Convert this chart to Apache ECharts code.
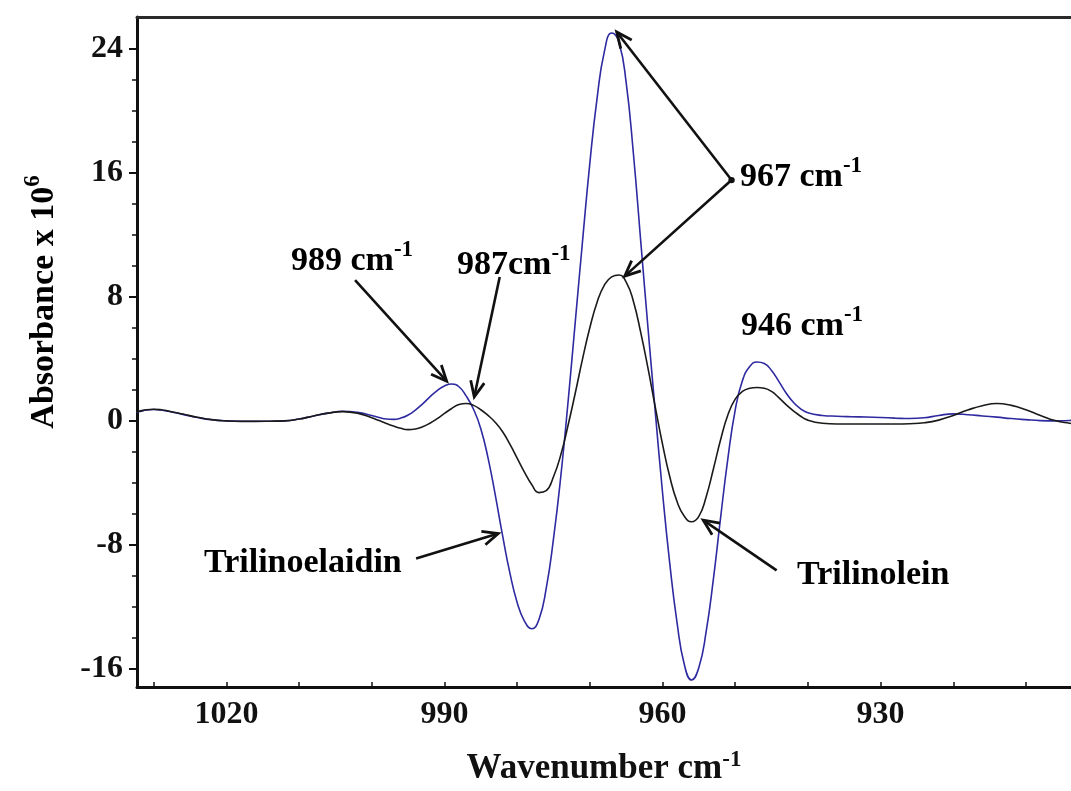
<!DOCTYPE html>
<html>
<head>
<meta charset="utf-8">
<script src="https://cdn.jsdelivr.net/npm/echarts@6/dist/echarts.min.js"></script>
<style>
  html, body { margin: 0; padding: 0; background: #ffffff; }
  #chart { width: 1071px; height: 791px; }
</style>
</head>
<body>
<div id="chart"></div>
<script>
// Wavenumber grid (cm-1), shared by both spectra
const wavenumbers = [
  1033, 1032, 1031, 1030, 1029, 1028, 1026, 1024, 1022, 1020,
  1018, 1016, 1014, 1012, 1010, 1008, 1006, 1004, 1002, 1000,
  999, 998, 997, 996, 995, 994, 993, 992, 991, 990,
  989, 988, 987, 986, 985, 984, 983, 982, 981, 980,
  979, 978, 977, 976, 975, 974, 973, 972, 971, 970,
  969, 968, 967, 966, 965, 964, 963, 962, 961, 960,
  959, 958, 957, 956, 955, 954, 953, 952, 951, 950,
  949, 948, 947, 946, 945, 944, 943, 942, 941, 940,
  938, 936, 934, 932, 930, 928, 926, 924, 922, 920,
  918, 916, 914, 912, 910, 908, 906, 904, 903
];

// Absorbance x 10^6, trans isomer (blue)
const trilinoelaidin = [
  0.50, 0.60, 0.70, 0.73, 0.70, 0.62, 0.42, 0.22, 0.07, 0.00,
  -0.02, -0.02, -0.02, 0.00, 0.12, 0.32, 0.50, 0.62, 0.55, 0.35,
  0.22, 0.12, 0.10, 0.18, 0.38, 0.70, 1.10, 1.55, 1.95, 2.25,
  2.38, 2.20, 1.60, 0.75, -0.50, -2.40, -4.80, -7.40, -9.80, -11.70,
  -12.90, -13.40, -12.80, -10.80, -7.60, -3.60, 1.20, 6.40, 11.60, 16.60,
  20.80, 23.80, 25.00, 24.40, 21.80, 17.20, 11.60, 6.00, 0.60, -4.60,
  -9.20, -13.00, -15.70, -16.70, -15.90, -13.60, -10.20, -6.20, -2.40, 0.70,
  2.60, 3.50, 3.80, 3.70, 3.25, 2.55, 1.80, 1.20, 0.78, 0.52,
  0.35, 0.30, 0.27, 0.25, 0.22, 0.18, 0.15, 0.20, 0.35, 0.45,
  0.40, 0.32, 0.24, 0.15, 0.08, 0.02, 0.00, 0.03, 0.05
];

// Absorbance x 10^6, cis isomer (black)
const trilinolein = [
  0.50, 0.62, 0.72, 0.75, 0.72, 0.64, 0.44, 0.24, 0.08, 0.00,
  -0.03, -0.03, -0.02, 0.00, 0.12, 0.32, 0.50, 0.60, 0.50, 0.20,
  0.02, -0.16, -0.33, -0.48, -0.56, -0.52, -0.38, -0.15, 0.15, 0.48,
  0.80, 1.05, 1.12, 1.00, 0.72, 0.35, -0.10, -0.70, -1.50, -2.40,
  -3.30, -4.10, -4.62, -4.50, -3.60, -2.20, -0.30, 1.80, 4.00, 6.00,
  7.65, 8.75, 9.28, 9.40, 8.95, 7.70, 5.70, 3.40, 0.90, -1.50,
  -3.60, -5.20, -6.15, -6.50, -6.15, -4.90, -3.10, -1.20, 0.40, 1.40,
  1.90, 2.10, 2.15, 2.10, 1.90, 1.50, 1.05, 0.65, 0.30, 0.05,
  -0.15, -0.20, -0.20, -0.20, -0.20, -0.20, -0.18, -0.12, 0.05, 0.35,
  0.70, 0.98, 1.12, 1.00, 0.72, 0.35, 0.02, -0.15, -0.20
];

// Axis ticks
const xTickLabels = [1020, 990, 960, 930];
const xTicks = [1030, 1020, 1010, 1000, 990, 980, 970, 960, 950, 940, 930, 920, 910];
const yTickLabels = [-16, -8, 0, 8, 16, 24];
const yMinorTicks = [-14, -12, -10, -6, -4, -2, 2, 4, 6, 10, 12, 14, 18, 20, 22];

// Band annotations: arrows from label to band, in data units [wavenumber, absorbance]
const arrows = [
  { from: [1002.3, 9.07], to: [989.7, 2.56] },
  { from: [982.4, 9.28], to: [985.9, 1.55] },
  { from: [950.5, 15.52], to: [966.3, 25.06] },
  { from: [950.5, 15.52], to: [965.2, 9.33] },
  { from: [993.9, -8.87], to: [982.6, -7.26] },
  { from: [944.3, -9.63], to: [954.4, -6.40] }
];
const junction = [950.5, 15.52];

const FONT = '"Liberation Serif", "Times New Roman", serif';
const INK = '#111111';

const chart = echarts.init(document.getElementById('chart'), null, { renderer: 'canvas' });

const xRange = { min: 903.8, max: 1032.3 };
const yRange = { min: -17.15, max: 26.03 };

const supRich = {
  v: { fontFamily: FONT, fontWeight: 'bold', fontSize: 34, color: INK, lineHeight: 44 },
  s: { fontFamily: FONT, fontWeight: 'bold', fontSize: 23, color: INK, lineHeight: 23, verticalAlign: 'top' }
};
const titleRich = {
  v: { fontFamily: FONT, fontWeight: 'bold', fontSize: 35, color: INK, lineHeight: 40 },
  s: { fontFamily: FONT, fontWeight: 'bold', fontSize: 23, color: INK, lineHeight: 23, verticalAlign: 'top' }
};

const plainNumber = (v) => String(v);

chart.setOption({
  animation: false,
  backgroundColor: '#ffffff',
  grid: { left: 137, right: 0, top: 17, bottom: 104, containLabel: false, outerBoundsMode: 'none' },
  xAxis: [
    {
      type: 'value',
      inverse: true,
      min: xRange.min,
      max: xRange.max,
      position: 'bottom',
      name: '{v|Wavenumber cm}{s|-1}',
      nameLocation: 'middle',
      nameGap: 62,
      nameTextStyle: { rich: titleRich },
      axisLine: { show: true, onZero: false, lineStyle: { color: INK, width: 3 } },
      axisTick: { show: true, inside: true, length: 5, customValues: xTicks, lineStyle: { color: INK, width: 1.5 } },
      axisLabel: {
        customValues: xTickLabels,
        formatter: plainNumber,
        margin: 12,
        fontFamily: FONT, fontWeight: 'bold', fontSize: 32, color: INK
      },
      splitLine: { show: false }
    },
    {
      type: 'value',
      inverse: true,
      min: xRange.min,
      max: xRange.max,
      position: 'top',
      axisLine: { show: true, onZero: false, lineStyle: { color: '#2a2a2a', width: 3 } },
      axisTick: { show: false },
      axisLabel: { show: false },
      splitLine: { show: false }
    }
  ],
  yAxis: [
    {
      type: 'value',
      min: yRange.min,
      max: yRange.max,
      position: 'left',
      axisLine: { show: true, onZero: false, lineStyle: { color: INK, width: 3 } },
      axisTick: { show: true, length: 8, customValues: yTickLabels, lineStyle: { color: INK, width: 2 } },
      axisLabel: {
        customValues: yTickLabels,
        formatter: plainNumber,
        margin: 14,
        fontFamily: FONT, fontWeight: 'bold', fontSize: 32, color: INK
      },
      splitLine: { show: false }
    },
    {
      type: 'value',
      min: yRange.min,
      max: yRange.max,
      position: 'left',
      axisLine: { show: false },
      axisTick: { show: true, length: 5, customValues: yMinorTicks, lineStyle: { color: INK, width: 1.5 } },
      axisLabel: { show: false },
      splitLine: { show: false }
    }
  ],
  series: [
    {
      name: 'Trilinolein',
      type: 'line',
      xAxisIndex: 0,
      yAxisIndex: 0,
      data: wavenumbers.map((w, i) => [w, trilinolein[i]]),
      showSymbol: false,
      smooth: 0.5,
      lineStyle: { color: '#1a1a1a', width: 1.6 },
      z: 3
    },
    {
      name: 'Trilinoelaidin',
      type: 'line',
      xAxisIndex: 0,
      yAxisIndex: 0,
      data: wavenumbers.map((w, i) => [w, trilinoelaidin[i]]),
      showSymbol: false,
      smooth: 0.5,
      lineStyle: { color: '#2e2aa0', width: 1.6 },
      z: 2
    }
  ]
});

// Arrow annotations, converted from data units to pixels
function arrowElements(a) {
  const p0 = chart.convertToPixel({ seriesIndex: 0 }, a.from);
  const p1 = chart.convertToPixel({ seriesIndex: 0 }, a.to);
  const dx = p1[0] - p0[0], dy = p1[1] - p0[1];
  const len = Math.hypot(dx, dy);
  const ux = dx / len, uy = dy / len;
  const head = 17, ang = 0.42;
  const rot = (t) => [
    p1[0] - head * (ux * Math.cos(t) - uy * Math.sin(t)),
    p1[1] - head * (ux * Math.sin(t) + uy * Math.cos(t))
  ];
  return [
    { type: 'line', silent: true, z: 10,
      shape: { x1: p0[0], y1: p0[1], x2: p1[0], y2: p1[1] },
      style: { stroke: INK, lineWidth: 2.6 } },
    { type: 'polyline', silent: true, z: 10,
      shape: { points: [rot(ang), p1, rot(-ang)] },
      style: { stroke: INK, lineWidth: 2.8, fill: null } }
  ];
}

function label(x, y, text, rich) {
  return {
    type: 'text', silent: true, z: 11, x: x, y: y,
    style: { text: text, rich: rich, textAlign: 'left', textVerticalAlign: 'middle', verticalAlign: 'middle' }
  };
}

const plain = { v: supRich.v };
const jp = chart.convertToPixel({ seriesIndex: 0 }, junction);

const graphics = [];
arrows.forEach(a => graphics.push(...arrowElements(a)));
graphics.push({ type: 'circle', silent: true, z: 11, shape: { cx: jp[0], cy: jp[1], r: 3.2 }, style: { fill: INK } });
graphics.push(label(291, 261, '{v|989 cm}{s|-1}', supRich));
graphics.push(label(457, 265, '{v|987cm}{s|-1}', supRich));
graphics.push(label(740, 177, '{v|967 cm}{s|-1}', supRich));
graphics.push(label(741, 326, '{v|946 cm}{s|-1}', supRich));
graphics.push(label(204, 563, '{v|Trilinoelaidin}', plain));
graphics.push(label(797, 575, '{v|Trilinolein}', plain));
graphics.push({
  type: 'text', silent: true, z: 11, x: 44, y: 302, rotation: Math.PI / 2,
  style: { text: '{v|Absorbance x 10}{s|6}', rich: supRich, textAlign: 'center', verticalAlign: 'middle', textVerticalAlign: 'middle' }
});

chart.setOption({ graphic: graphics });
</script>
</body>
</html>
